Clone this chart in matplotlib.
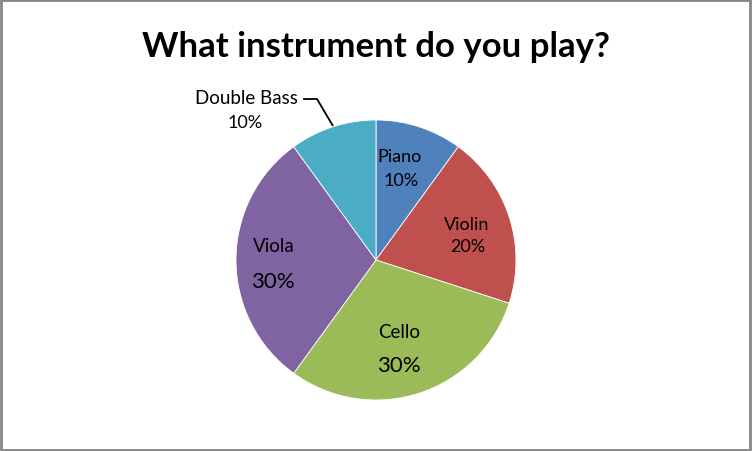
import matplotlib
matplotlib.use("Agg")
import matplotlib.pyplot as plt
import numpy as np

categories = ["Piano", "Violin", "Cello", "Viola", "Double Bass"]
values = [10, 20, 30, 30, 10]
pct_labels = ["10%", "20%", "30%", "30%", "10%"]
colors = ["#4F81BD", "#C0504D", "#9BBB59", "#8064A2", "#4BACC6"]

W, H = 752, 452
CX, CY, R = 376, 261, 140

fig = plt.figure(figsize=(W / 100, H / 100), dpi=100)
ax = fig.add_axes([0, 0, 1, 1])

ax.pie(values, colors=colors, startangle=90, counterclock=False, radius=1,
       wedgeprops=dict(edgecolor="white", linewidth=0.6))

ax.set_xlim(-CX / R, (W - CX) / R)
ax.set_ylim(-(H - CY) / R, CY / R)
ax.set_aspect("equal")
ax.axis("off")

def P(px, py):
    return (px - CX) / R, (CY - py) / R

font = "Lato"
# label positions (pixel coords of name and percent)
name_pos = [(400, 157), (467, 225), (399, 333), (274, 247), (246, 99)]
pct_pos = [(401, 181), (468, 247), (399, 366), (273, 282), (245, 123)]
name_size = [13, 13, 13.5, 13.5, 13.5]
pct_size = [13, 13, 16, 16, 13]
for name, pct, npos, ppos, ns, ps in zip(categories, pct_labels, name_pos, pct_pos,
                                         name_size, pct_size):
    ax.text(*P(*npos), name, ha="center", va="center", fontsize=ns, family=font, color="black")
    ax.text(*P(*ppos), pct, ha="center", va="center", fontsize=ps, family=font, color="black")

# leader line for Double Bass
pts = [P(303, 100), P(317, 100), P(333, 127)]
ax.plot([p[0] for p in pts], [p[1] for p in pts], color="black", linewidth=1.3,
        solid_capstyle="butt")

fig.text(CX / W, 1 - 47 / H, "What instrument do you play?", ha="center", va="center",
         fontsize=25, fontweight="bold", family=font)

border = plt.Rectangle((0.001, 0.002), 0.997, 0.996, transform=fig.transFigure,
                       fill=False, edgecolor="#868686", linewidth=2)
fig.patches.append(border)

fig.savefig("out.png", dpi=100)
